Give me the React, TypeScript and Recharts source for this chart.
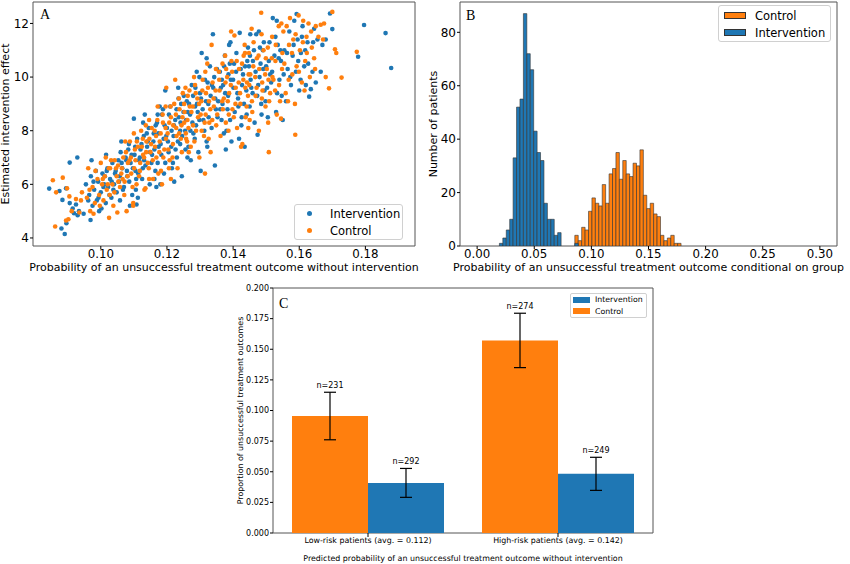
import React from "react";
import {
  Bar,
  BarChart,
  ErrorBar,
  LabelList,
  Legend,
  ReferenceArea,
  Scatter,
  ScatterChart,
  XAxis,
  YAxis,
} from "recharts";

const BLUE = "#1f77b4";
const ORANGE = "#ff7f0e";
const SPINE = "#555";
const FONT = "'DejaVu Sans', sans-serif";
const SERIF = "'Liberation Serif', serif";

// ---- panel A: estimated effect vs baseline risk ----
const interventionPts: [number, number][] = [
  [0.0844, 5.84], [0.0891, 4.15], [0.0881, 4.35], [0.0884, 5.42], [0.0896, 4.55], [0.0906, 6.81],
  [0.0929, 7.0], [0.0919, 4.92], [0.0906, 5.3], [0.0915, 5.1], [0.093, 4.85], [0.0875, 5.75],
  [0.0895, 5.85], [0.0934, 5.0], [0.0948, 4.9], [0.0925, 5.25],
  [0.0955, 6.0], [0.0965, 5.6], [0.097, 6.3], [0.0975, 5.2], [0.098, 5.8], [0.0985, 6.5],
  [0.0988, 5.4], [0.0992, 6.1], [0.0995, 5.0], [0.1, 5.7], [0.1005, 6.4], [0.101, 6.0],
  [0.1015, 5.3], [0.102, 6.6], [0.1022, 5.9], [0.1028, 6.2], [0.1032, 5.5], [0.1035, 6.8],
  [0.104, 6.0], [0.1045, 6.5], [0.1048, 5.7], [0.0969, 4.67], [0.0972, 6.9], [0.1002, 5.1],
  [0.1055, 6.1], [0.106, 7.2], [0.1065, 6.6], [0.107, 5.9], [0.1075, 7.0], [0.108, 6.3],
  [0.1085, 7.5], [0.109, 6.8], [0.1095, 5.6], [0.11, 8.45], [0.1102, 7.1], [0.1105, 6.5],
  [0.111, 7.7], [0.1112, 5.5], [0.1115, 6.9], [0.112, 7.3], [0.1125, 6.2], [0.113, 7.8],
  [0.1135, 6.7], [0.114, 7.4], [0.1145, 8.1], [0.1148, 6.0], [0.1058, 5.4], [0.1088, 5.2],
  [0.1108, 5.25],
  [0.1155, 7.1], [0.116, 7.9], [0.1165, 6.5], [0.117, 8.3], [0.1175, 7.4], [0.118, 6.0],
  [0.1185, 8.6], [0.119, 7.7], [0.1195, 6.8], [0.12, 8.1], [0.1205, 7.2], [0.121, 8.9],
  [0.1215, 6.6], [0.122, 7.8], [0.1225, 8.4], [0.123, 7.0], [0.1235, 9.2], [0.124, 8.0],
  [0.1245, 6.3], [0.125, 8.7], [0.1168, 5.9], [0.1195, 9.5], [0.1222, 6.1], [0.124, 7.5],
  [0.1178, 8.9],
  [0.1255, 8.0], [0.126, 9.1], [0.1265, 7.4], [0.127, 8.6], [0.1275, 9.7], [0.128, 7.9],
  [0.1285, 8.9], [0.129, 10.2], [0.1295, 7.2], [0.13, 9.4], [0.1305, 10.9], [0.131, 8.4],
  [0.1315, 9.9], [0.132, 7.6], [0.1325, 9.0], [0.133, 10.4], [0.1335, 8.1], [0.1339, 11.6],
  [0.134, 9.6], [0.1345, 6.7], [0.1348, 8.8], [0.1272, 6.9], [0.1302, 6.5], [0.132, 10.7],
  [0.1288, 8.2],
  [0.1355, 9.1], [0.136, 10.2], [0.1365, 8.4], [0.137, 9.7], [0.1375, 10.8], [0.138, 8.0],
  [0.1385, 9.3], [0.139, 10.5], [0.1395, 7.6], [0.14, 9.9], [0.1405, 8.7], [0.141, 10.9],
  [0.1415, 9.2], [0.142, 11.65], [0.1425, 8.2], [0.143, 10.1], [0.1435, 7.4], [0.144, 9.5],
  [0.1445, 11.1], [0.145, 8.9], [0.1378, 7.3], [0.1418, 7.7], [0.1448, 10.4], [0.1388, 11.2],
  [0.1368, 9.0],
  [0.1455, 9.6], [0.146, 10.6], [0.1465, 8.3], [0.147, 11.6], [0.1474, 7.85], [0.148, 10.0],
  [0.1485, 9.0], [0.149, 11.0], [0.1495, 9.5], [0.15, 10.4], [0.1505, 8.5], [0.151, 11.3],
  [0.1515, 9.8], [0.152, 12.2], [0.1525, 10.8], [0.153, 8.7], [0.1535, 11.2], [0.154, 9.9],
  [0.1545, 10.6], [0.155, 8.4], [0.1478, 11.7], [0.1512, 10.1], [0.1538, 10.7],
  [0.1555, 11.0], [0.156, 9.1], [0.1565, 10.3], [0.157, 11.7], [0.1575, 9.7], [0.158, 10.8],
  [0.1585, 12.1], [0.159, 10.2], [0.1595, 11.4], [0.16, 9.5], [0.1605, 10.9], [0.161, 11.9],
  [0.1615, 10.4], [0.162, 9.7], [0.1625, 11.3], [0.163, 9.27], [0.1635, 9.55], [0.164, 10.2],
  [0.1645, 11.8], [0.165, 9.8], [0.1592, 12.35],
  [0.1655, 11.4], [0.167, 11.2], [0.168, 11.4], [0.1693, 12.37], [0.17, 11.79], [0.1665, 10.2],
  [0.1778, 10.76], [0.1796, 11.94], [0.1861, 11.64], [0.1878, 10.34],
  [0.1012, 6.3], [0.1038, 5.8], [0.1063, 6.8], [0.1079, 6.5], [0.1093, 7.1], [0.1107, 6.2],
  [0.1118, 7.0], [0.1127, 6.6], [0.1142, 7.6], [0.1153, 6.8], [0.1162, 7.3], [0.1174, 7.9],
  [0.1183, 7.1], [0.1193, 8.2], [0.1203, 7.6], [0.1214, 8.0], [0.1226, 7.3], [0.1236, 8.5],
  [0.1246, 7.8], [0.1258, 8.4], [0.1267, 9.0], [0.1277, 8.3], [0.1286, 9.6], [0.1293, 8.7],
  [0.1303, 9.2], [0.1313, 8.0], [0.1323, 9.8], [0.1332, 9.3], [0.1343, 10.0], [0.1353, 8.5],
  [0.1363, 9.6], [0.1373, 10.4], [0.1383, 8.8], [0.1393, 9.9], [0.1403, 10.5], [0.1413, 9.4],
  [0.1423, 10.3], [0.1433, 9.0], [0.1443, 10.6], [0.1453, 9.9], [0.1463, 11.0], [0.1473, 9.3],
  [0.1483, 10.5], [0.1493, 11.3], [0.1503, 9.6], [0.1053, 6.9], [0.1083, 7.3], [0.1133, 8.6],
  [0.1188, 8.8], [0.1243, 9.0],
  [0.0962, 5.4], [0.0978, 6.1], [0.0993, 5.5], [0.1008, 5.9], [0.1018, 6.5], [0.1026, 5.6],
  [0.1033, 6.1], [0.1043, 6.4], [0.1057, 6.3], [0.1067, 5.8], [0.1077, 6.9], [0.1086, 6.1],
  [0.1097, 6.6], [0.1104, 7.4], [0.1113, 6.4], [0.1123, 7.5], [0.1131, 6.9], [0.1139, 7.9],
  [0.1149, 7.2], [0.1159, 7.6], [0.1166, 8.2], [0.1172, 6.8], [0.1181, 7.5], [0.1191, 6.4],
  [0.1198, 7.8], [0.1206, 8.6], [0.1213, 7.4], [0.1221, 8.2], [0.1229, 8.8], [0.1233, 7.6],
  [0.1241, 8.3], [0.1251, 9.3], [0.1256, 7.3], [0.1263, 8.7], [0.1271, 8.0], [0.1279, 9.3],
  [0.1284, 7.7], [0.1291, 9.0], [0.1298, 8.4], [0.1308, 8.8], [0.1318, 9.1], [0.1326, 8.5],
  [0.1336, 9.7], [0.1346, 9.2], [0.1351, 10.3], [0.1361, 8.8], [0.1366, 9.9], [0.1376, 9.4],
  [0.1386, 10.1], [0.1391, 8.4], [0.1401, 9.6], [0.1409, 10.2], [0.1416, 8.9], [0.1427, 9.7],
  [0.1436, 10.4], [0.1441, 8.6], [0.1451, 10.8], [0.1459, 9.4], [0.1468, 10.2], [0.1476, 9.7],
  [0.1481, 11.1], [0.1491, 10.3], [0.1498, 9.1], [0.1508, 10.6], [0.1518, 10.2], [0.1528, 11.5],
  [0.1533, 9.4], [0.1543, 11.0], [0.1553, 10.1], [0.1563, 10.9], [0.1573, 10.0], [0.1583, 11.2],
  [0.1597, 10.6], [0.1608, 11.5], [0.1618, 11.0], [0.1627, 10.5], [0.1642, 11.3], [0.1532, 12.1],
  [0.1452, 11.6], [0.1392, 11.3], [0.1298, 10.0], [0.1234, 9.6], [0.1172, 8.6], [0.1128, 8.3],
  [0.1062, 7.6], [0.1016, 7.1], [0.1106, 5.8], [0.1162, 6.2], [0.1218, 6.8], [0.1262, 7.0],
  [0.1322, 7.4], [0.1372, 7.9], [0.1426, 8.5], [0.1486, 8.6], [0.1547, 9.3], [0.1604, 9.9],
];

const controlPts: [number, number][] = [
  [0.0855, 6.15], [0.0862, 4.43], [0.0865, 5.7], [0.0885, 6.25], [0.0898, 5.85], [0.0905, 5.55],
  [0.0902, 4.7], [0.0895, 4.65], [0.0912, 5.0], [0.0925, 5.45], [0.094, 5.4], [0.0943, 5.7],
  [0.0935, 4.95],
  [0.0958, 5.5], [0.0962, 6.6], [0.0968, 5.0], [0.0975, 5.9], [0.0982, 5.3], [0.099, 6.2],
  [0.0995, 5.6], [0.1, 6.8], [0.1008, 5.4], [0.1012, 6.3], [0.1018, 5.8], [0.1025, 4.75],
  [0.1028, 6.6], [0.1035, 6.0], [0.1038, 5.2], [0.1042, 6.9], [0.1048, 6.3], [0.105, 4.95],
  [0.0978, 4.9], [0.1015, 7.0],
  [0.1052, 6.7], [0.1058, 5.9], [0.1062, 6.4], [0.1068, 7.0], [0.1072, 6.1], [0.1078, 5.0],
  [0.1082, 6.8], [0.1088, 7.6], [0.1092, 6.4], [0.1098, 5.3], [0.11, 7.9], [0.1105, 6.9],
  [0.1108, 6.0], [0.1112, 7.4], [0.1118, 6.5], [0.1122, 8.0], [0.1128, 7.1], [0.1132, 5.8],
  [0.1138, 7.6], [0.1142, 6.8], [0.1146, 8.4], [0.115, 7.2], [0.1098, 5.2], [0.1135, 5.85],
  [0.1152, 7.5], [0.1158, 6.2], [0.1163, 8.0], [0.1168, 7.0], [0.1172, 8.9], [0.1178, 7.6],
  [0.1182, 6.5], [0.1188, 8.3], [0.1192, 7.3], [0.1198, 9.6], [0.1202, 7.9], [0.1208, 6.9],
  [0.1212, 8.5], [0.1218, 7.5], [0.1222, 9.0], [0.1228, 8.1], [0.1232, 6.6], [0.1238, 8.8],
  [0.1242, 7.7], [0.1248, 9.4], [0.1252, 8.3], [0.1225, 9.9], [0.1185, 6.0], [0.1212, 6.2],
  [0.1245, 7.2],
  [0.1252, 9.0], [0.1258, 7.7], [0.1262, 8.4], [0.1268, 9.5], [0.1272, 7.4], [0.1278, 8.9],
  [0.1282, 10.0], [0.1288, 8.0], [0.1292, 9.2], [0.1298, 7.0], [0.1302, 8.6], [0.1308, 9.9],
  [0.1312, 7.8], [0.1318, 9.4], [0.1322, 10.5], [0.1328, 8.3], [0.1332, 7.2], [0.1338, 9.8],
  [0.1342, 8.9], [0.1348, 10.3], [0.1315, 6.4], [0.1335, 11.2], [0.1265, 8.1], [0.1285, 9.7],
  [0.1305, 8.0],
  [0.1352, 8.6], [0.1358, 9.9], [0.1362, 7.8], [0.1368, 10.5], [0.1372, 9.2], [0.1378, 8.3],
  [0.1382, 10.0], [0.1388, 9.4], [0.1394, 11.7], [0.1398, 8.8], [0.1404, 11.55], [0.1408, 9.6],
  [0.1412, 8.1], [0.1418, 10.3], [0.1422, 9.0], [0.1428, 7.5], [0.1432, 10.8], [0.1438, 8.5],
  [0.1442, 9.8], [0.1448, 10.9], [0.145, 8.4], [0.1424, 7.4], [0.1395, 10.6], [0.1435, 11.2],
  [0.1445, 9.3],
  [0.1452, 10.1], [0.1458, 8.7], [0.1462, 11.3], [0.1468, 9.3], [0.1472, 10.7], [0.1478, 8.0],
  [0.1485, 12.4], [0.1488, 9.8], [0.1492, 11.0], [0.1498, 8.9], [0.1502, 10.3], [0.1508, 7.2],
  [0.1512, 9.4], [0.1518, 11.5], [0.1522, 9.9], [0.1528, 10.6], [0.1532, 8.6], [0.1538, 11.9],
  [0.1542, 9.1], [0.1548, 10.3], [0.1552, 11.7], [0.1545, 8.45], [0.1505, 11.1],
  [0.1555, 10.5], [0.1562, 11.9], [0.1568, 9.9], [0.1572, 12.2], [0.1578, 10.9], [0.1582, 11.4],
  [0.1587, 9.0], [0.1588, 7.85], [0.1592, 10.4], [0.1598, 12.3], [0.1602, 11.0], [0.1608, 9.8],
  [0.1612, 12.1], [0.1618, 10.6], [0.1622, 11.5], [0.1628, 12.0], [0.1632, 10.0], [0.1638, 11.1],
  [0.1645, 10.7], [0.165, 11.9],
  [0.1665, 11.95], [0.1672, 11.4], [0.168, 10.0], [0.169, 9.58], [0.17, 12.43], [0.1708, 11.04],
  [0.1712, 10.9], [0.1728, 9.98], [0.1774, 10.94], [0.1675, 12.0],
  [0.1004, 6.0], [0.1027, 5.6], [0.1046, 6.6], [0.1066, 6.2], [0.1087, 6.9], [0.1103, 7.3],
  [0.1116, 6.3], [0.1131, 7.0], [0.1147, 7.7], [0.1157, 6.9], [0.1167, 7.8], [0.1177, 7.2],
  [0.1187, 8.6], [0.1197, 7.7], [0.1207, 8.3], [0.1217, 7.0], [0.1227, 8.6], [0.1237, 7.9],
  [0.1247, 8.5], [0.1257, 7.9], [0.1263, 9.3], [0.1274, 8.7], [0.1283, 7.6], [0.1297, 9.0],
  [0.1307, 9.5], [0.1317, 8.6], [0.1327, 9.1], [0.1337, 8.4], [0.1347, 9.5], [0.1357, 10.2],
  [0.1367, 9.1], [0.1377, 9.8], [0.1387, 8.6], [0.1397, 10.2], [0.1407, 9.0], [0.1417, 9.8],
  [0.1427, 10.5], [0.1437, 9.6], [0.1447, 10.1], [0.1457, 9.1], [0.1467, 10.0], [0.1477, 10.8],
  [0.1487, 9.2], [0.1497, 10.1], [0.1507, 9.9], [0.1517, 10.7], [0.1527, 9.5], [0.1074, 7.6],
  [0.1124, 7.4], [0.1174, 6.4],
  [0.0966, 5.8], [0.0984, 6.5], [0.0997, 5.2], [0.1006, 6.2], [0.1021, 6.0], [0.1031, 6.9],
  [0.1041, 5.7], [0.1053, 6.1], [0.1064, 6.6], [0.1071, 5.6], [0.1081, 6.3], [0.1091, 7.0],
  [0.1101, 6.6], [0.1109, 7.6], [0.1119, 6.8], [0.1127, 7.7], [0.1137, 7.2], [0.1145, 6.6],
  [0.1154, 8.1], [0.1164, 7.4], [0.1171, 8.4], [0.1181, 7.9], [0.1189, 7.0], [0.1196, 8.1],
  [0.1204, 7.3], [0.1211, 8.9], [0.1219, 8.2], [0.1229, 7.8], [0.1236, 9.2], [0.1244, 8.2],
  [0.1253, 8.7], [0.1261, 7.6], [0.1269, 8.9], [0.1279, 8.2], [0.1287, 9.4], [0.1294, 8.5],
  [0.1304, 9.1], [0.1314, 8.3], [0.1324, 9.6], [0.1331, 8.8], [0.1341, 9.2], [0.1349, 8.2],
  [0.1359, 9.5], [0.1369, 8.8], [0.1379, 10.3], [0.1384, 9.1], [0.1393, 9.7], [0.1402, 8.5],
  [0.1411, 10.6], [0.1421, 9.4], [0.1431, 9.9], [0.1441, 8.9], [0.1449, 9.7], [0.1461, 10.4],
  [0.1471, 9.6], [0.1479, 10.3], [0.1489, 9.5], [0.1499, 10.7], [0.1509, 9.1], [0.1519, 10.0],
  [0.1529, 11.2], [0.1539, 9.7], [0.1549, 10.9], [0.1559, 9.4], [0.1569, 11.2], [0.1579, 10.1],
  [0.1589, 11.6], [0.1599, 10.2], [0.1611, 11.3], [0.1623, 10.9], [0.1636, 11.7], [0.1648, 10.3],
  [0.1658, 11.5], [0.1436, 10.9], [0.1376, 10.8], [0.1316, 10.2], [0.1256, 9.6], [0.1196, 8.9],
  [0.1136, 8.2], [0.1076, 7.2], [0.1024, 6.6], [0.1096, 5.9], [0.1146, 6.2], [0.1206, 6.6],
  [0.1266, 7.2], [0.1326, 7.7], [0.1386, 8.0], [0.1446, 8.1], [0.1506, 8.3], [0.1566, 9.1],
  [0.1616, 9.5], [0.1486, 11.6], [0.1546, 12.0], [0.1456, 11.8],
];

const scatterXTicks = [0.1, 0.12, 0.14, 0.16, 0.18];
const scatterYTicks = [4, 6, 8, 10, 12];

// ---- panel B: histogram of conditional risk ----
const binStart = 0.0195;
const binWidth = 0.003;
const interventionCounts = [1, 3, 6, 10, 33, 52, 55, 87, 72, 66, 43, 35, 32, 16, 10, 10, 4, 5, 0, 0, 0, 0, 1];
const controlFirstBin = 22;
const controlCounts = [
  4, 2, 7, 6, 13, 18, 16, 15, 23, 16, 27, 29, 35, 25, 32, 27, 26, 31, 30, 36, 19, 14, 16, 12, 11, 4, 2, 3, 4, 1, 1,
];
const histXTicks = [0, 0.05, 0.1, 0.15, 0.2, 0.25, 0.3];
const histYTicks = [0, 20, 40, 60, 80];

// ---- panel C: observed proportions by risk group ----
const riskGroups = ["Low-risk patients (avg. = 0.112)", "High-risk patients (avg. = 0.142)"];
const controlRate = [0.0955, 0.1572];
const controlErr = [0.0194, 0.0222];
const controlN = [231, 274];
const interventionRate = [0.0409, 0.0483];
const interventionErr = [0.0118, 0.0135];
const interventionN = [292, 249];
const propTicks = [0, 0.025, 0.05, 0.075, 0.1, 0.125, 0.15, 0.175, 0.2];

const tickStyle = (size: number) => ({ fontSize: size, fill: "#000" });

function PanelLetter({ text, left, top }: { text: string; left: number; top: number }) {
  return (
    <div
      style={{
        position: "absolute",
        left,
        top,
        fontFamily: SERIF,
        fontSize: 14,
        lineHeight: "14px",
        color: "#000",
        zIndex: 2,
      }}
    >
      {text}
    </div>
  );
}

function ScatterLegend() {
  const items = [
    { name: "Intervention", color: BLUE },
    { name: "Control", color: ORANGE },
  ];
  return (
    <div
      style={{
        width: 109,
        height: 36,
        boxSizing: "border-box",
        border: "1px solid #d0d0d0",
        borderRadius: 3,
        background: "rgba(255,255,255,0.85)",
        paddingLeft: 12,
        paddingTop: 0,
        fontSize: 11.5,
      }}
    >
      {items.map((it) => (
        <div key={it.name} style={{ display: "flex", alignItems: "center", height: 17 }}>
          <span style={{ width: 5, height: 5, borderRadius: "50%", background: it.color, marginRight: 18 }} />
          <span>{it.name}</span>
        </div>
      ))}
    </div>
  );
}

function HistLegend() {
  const items = [
    { name: "Control", color: ORANGE },
    { name: "Intervention", color: BLUE },
  ];
  return (
    <div
      style={{
        width: 113,
        height: 37,
        boxSizing: "border-box",
        border: "1px solid #d0d0d0",
        borderRadius: 3,
        background: "rgba(255,255,255,0.85)",
        paddingLeft: 5,
        paddingTop: 1,
        fontSize: 11.5,
      }}
    >
      {items.map((it) => (
        <div key={it.name} style={{ display: "flex", alignItems: "center", height: 17 }}>
          <span
            style={{
              width: 22,
              height: 7,
              boxSizing: "border-box",
              background: it.color,
              border: "1px solid #333",
              marginRight: 9,
            }}
          />
          <span>{it.name}</span>
        </div>
      ))}
    </div>
  );
}

function PropLegend() {
  const items = [
    { name: "Intervention", color: BLUE },
    { name: "Control", color: ORANGE },
  ];
  return (
    <div
      style={{
        width: 77,
        height: 25,
        boxSizing: "border-box",
        border: "1px solid #d0d0d0",
        borderRadius: 2,
        background: "rgba(255,255,255,0.85)",
        paddingLeft: 2,
        paddingTop: 0,
        fontSize: 7.8,
      }}
    >
      {items.map((it) => (
        <div key={it.name} style={{ display: "flex", alignItems: "center", height: 11.5 }}>
          <span style={{ width: 17, height: 6, background: it.color, marginRight: 5 }} />
          <span>{it.name}</span>
        </div>
      ))}
    </div>
  );
}

function EffectScatter() {
  const iData = interventionPts.map(([x, y]) => ({ x, y }));
  const cData = controlPts.map(([x, y]) => ({ x, y }));
  const xDomain: [number, number] = [0.0795, 0.195];
  const yDomain: [number, number] = [3.7, 12.8];
  const dot = (color: string) => (p: any) => <circle cx={p.cx} cy={p.cy} r={2.3} fill={color} />;
  return (
    <ScatterChart width={425} height={280} margin={{ top: 2, right: 10, bottom: 0, left: 0 }}>
      <XAxis
        type="number"
        dataKey="x"
        domain={xDomain}
        ticks={scatterXTicks}
        tickFormatter={(v: number) => v.toFixed(2)}
        allowDataOverflow
        height={34}
        axisLine={false}
        tickSize={3}
        tickMargin={1}
        tickLine={{ stroke: "#000" }}
        tick={tickStyle(11.8)}
        label={{
          value: "Probability of an unsuccessful treatment outcome without intervention",
          position: "insideBottom",
          offset: 9.5,
          fontSize: 11,
          fill: "#000",
        }}
      />
      <YAxis
        type="number"
        dataKey="y"
        domain={yDomain}
        ticks={scatterYTicks}
        allowDataOverflow
        width={33}
        axisLine={false}
        tickSize={3}
        tickMargin={1}
        tickLine={{ stroke: "#000" }}
        tick={tickStyle(12)}
        label={{
          value: "Estimated intervention effect",
          angle: -90,
          position: "insideLeft",
          offset: 5,
          fontSize: 11,
          fill: "#000",
          style: { textAnchor: "middle" },
        }}
      />
      <ReferenceArea
        x1={xDomain[0]}
        x2={xDomain[1]}
        y1={yDomain[0]}
        y2={yDomain[1]}
        fill="none"
        fillOpacity={0}
        stroke={SPINE}
        strokeWidth={1}
      />
      <Scatter name="Intervention" data={iData} fill={BLUE} shape={dot(BLUE)} isAnimationActive={false} />
      <Scatter name="Control" data={cData} fill={ORANGE} shape={dot(ORANGE)} isAnimationActive={false} />
      <Legend
        layout="vertical"
        align="center"
        verticalAlign="middle"
        wrapperStyle={{ left: 294, top: 204, width: 109, height: 36 }}
        content={() => <ScatterLegend />}
      />
    </ScatterChart>
  );
}

function RiskHistogram() {
  const binCount = controlFirstBin + controlCounts.length;
  const rows = Array.from({ length: binCount }, (_, i) => {
    const ic = interventionCounts[i] ?? 0;
    const cc = i >= controlFirstBin ? controlCounts[i - controlFirstBin] : 0;
    return { x: binStart + binWidth * (i + 0.5), intervention: ic || null, control: cc || null };
  });
  const xDomain: [number, number] = [-0.015, 0.315];
  const yDomain: [number, number] = [0, 91.35];
  const plotWidth = 425 - 35 - 13;
  const barPx = (plotWidth * binWidth) / (xDomain[1] - xDomain[0]) - 0.01;
  return (
    <BarChart
      width={425}
      height={280}
      data={rows}
      margin={{ top: 2, right: 13, bottom: 0, left: 0 }}
      barCategoryGap={0}
      barGap={0}
    >
      <XAxis
        xAxisId="main"
        type="number"
        dataKey="x"
        domain={xDomain}
        ticks={histXTicks}
        tickFormatter={(v: number) => v.toFixed(2)}
        allowDataOverflow
        height={34}
        axisLine={false}
        tickSize={3}
        tickMargin={1}
        tickLine={{ stroke: "#000" }}
        tick={tickStyle(11.8)}
        label={{
          value: "Probability of an unsuccessful treatment outcome conditional on group",
          position: "insideBottom",
          offset: 9.5,
          fontSize: 11,
          fill: "#000",
        }}
      />
      <XAxis xAxisId="over" type="number" dataKey="x" domain={xDomain} allowDataOverflow hide />
      <YAxis
        type="number"
        domain={yDomain}
        ticks={histYTicks}
        allowDataOverflow
        width={35}
        axisLine={false}
        tickSize={3}
        tickMargin={1}
        tickLine={{ stroke: "#000" }}
        tick={tickStyle(12)}
        label={{
          value: "Number of patients",
          angle: -90,
          position: "insideLeft",
          offset: 8,
          fontSize: 11,
          fill: "#000",
          style: { textAnchor: "middle" },
        }}
      />
      <ReferenceArea
        xAxisId="main"
        x1={xDomain[0]}
        x2={xDomain[1]}
        y1={yDomain[0]}
        y2={yDomain[1]}
        fill="none"
        fillOpacity={0}
        stroke={SPINE}
        strokeWidth={1}
      />
      <Bar
        xAxisId="main"
        dataKey="control"
        name="Control"
        fill={ORANGE}
        stroke="#333"
        strokeWidth={0.6}
        barSize={barPx}
        isAnimationActive={false}
      />
      <Bar
        xAxisId="over"
        dataKey="intervention"
        name="Intervention"
        fill={BLUE}
        stroke="#333"
        strokeWidth={0.6}
        barSize={barPx}
        isAnimationActive={false}
      />
      <Legend
        layout="vertical"
        align="center"
        verticalAlign="middle"
        wrapperStyle={{ left: 293, top: 5, width: 113, height: 37 }}
        content={() => <HistLegend />}
      />
    </BarChart>
  );
}

function nLabel(rates: number[], errs: number[]) {
  return (props: any) => {
    const vb = props.viewBox && props.viewBox.width !== undefined ? props.viewBox : props;
    const { x, y, width, height } = vb;
    const i = props.index;
    const errTop = y - (height * errs[i]) / rates[i];
    return (
      <text x={x + width / 2} y={errTop - 4} textAnchor="middle" fontSize={8} fill="#000">
        {`n=${props.value}`}
      </text>
    );
  };
}

function ProportionBars() {
  const rows = riskGroups.map((g, i) => ({
    group: g,
    control: controlRate[i],
    controlErr: controlErr[i],
    controlN: controlN[i],
    intervention: interventionRate[i],
    interventionErr: interventionErr[i],
    interventionN: interventionN[i],
  }));
  return (
    <BarChart
      width={440}
      height={284}
      data={rows}
      margin={{ top: 8, right: 7, bottom: 0, left: 0 }}
      barCategoryGap="10%"
      barGap={0}
    >
      <XAxis
        dataKey="group"
        height={31}
        axisLine={false}
        tickSize={4}
        tickMargin={0}
        tickLine={{ stroke: "#000" }}
        tick={tickStyle(7.9)}
        label={{
          value: "Predicted probability of an unsuccessful treatment outcome without intervention",
          position: "insideBottom",
          offset: 3,
          fontSize: 7.9,
          fill: "#000",
        }}
      />
      <YAxis
        type="number"
        domain={[0, 0.2]}
        ticks={propTicks}
        tickFormatter={(v: number) => v.toFixed(3)}
        allowDataOverflow
        width={53}
        axisLine={false}
        tickSize={3}
        tickMargin={1}
        tickLine={{ stroke: "#000" }}
        tick={tickStyle(8)}
        label={{
          value: "Proportion of unsuccessful treatment outcomes",
          angle: -90,
          position: "insideLeft",
          offset: 20.5,
          fontSize: 7.9,
          fill: "#000",
          style: { textAnchor: "middle" },
        }}
      />
      <ReferenceArea
        x1={riskGroups[0]}
        x2={riskGroups[1]}
        y1={0}
        y2={0.2}
        fill="none"
        fillOpacity={0}
        stroke={SPINE}
        strokeWidth={1}
      />
      <Bar dataKey="control" name="Control" fill={ORANGE} isAnimationActive={false}>
        <ErrorBar dataKey="controlErr" width={6} stroke="#000" strokeWidth={1.2} direction="y" />
        <LabelList dataKey="controlN" content={nLabel(controlRate, controlErr)} />
      </Bar>
      <Bar dataKey="intervention" name="Intervention" fill={BLUE} isAnimationActive={false}>
        <ErrorBar dataKey="interventionErr" width={6} stroke="#000" strokeWidth={1.2} direction="y" />
        <LabelList dataKey="interventionN" content={nLabel(interventionRate, interventionErr)} />
      </Bar>
      <Legend
        layout="vertical"
        align="center"
        verticalAlign="middle"
        wrapperStyle={{ left: 350, top: 13, width: 77, height: 25 }}
        content={() => <PropLegend />}
      />
    </BarChart>
  );
}

export default function App() {
  return (
    <div
      style={{
        position: "absolute",
        left: 0,
        top: 0,
        width: 850,
        height: 564,
        background: "#fff",
        fontFamily: FONT,
        color: "#000",
        overflow: "hidden",
      }}
    >
      <div style={{ position: "absolute", left: 0, top: 0 }}>
        <EffectScatter />
      </div>
      <div style={{ position: "absolute", left: 425, top: 0 }}>
        <RiskHistogram />
      </div>
      <div style={{ position: "absolute", left: 220, top: 280 }}>
        <ProportionBars />
      </div>
      <PanelLetter text="A" left={40} top={8} />
      <PanelLetter text="B" left={466} top={9} />
      <PanelLetter text="C" left={279} top={296.5} />
    </div>
  );
}
